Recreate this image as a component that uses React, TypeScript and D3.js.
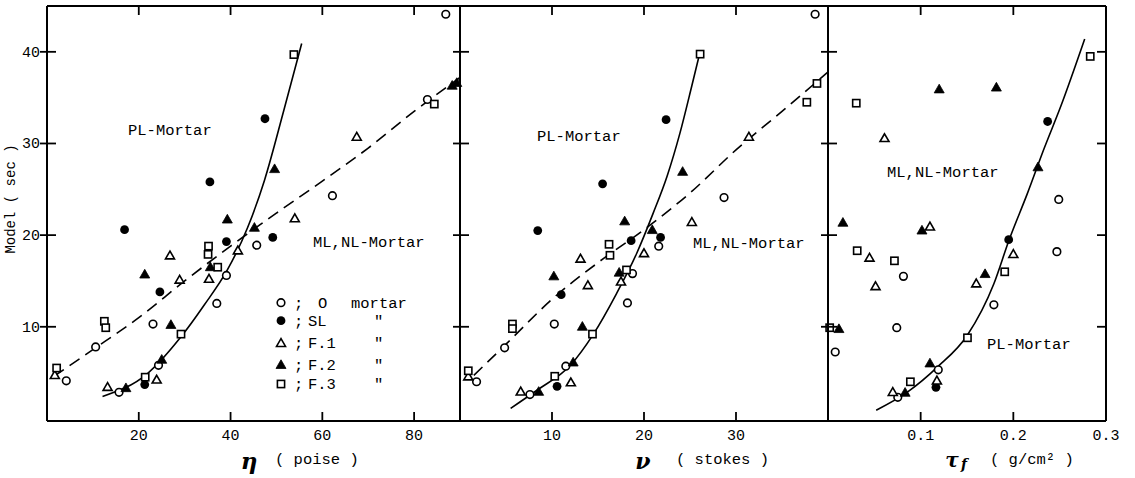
import React from 'react';
import * as d3 from 'd3';

// ---------- data ----------
const yTicks = [10, 20, 30, 40];
const etaTicks = [20, 40, 60, 80];
const nuTicks = [10, 20, 30];
const tauTicks = [0.1, 0.2, 0.3];

// Panel 1: eta (poise) vs Model (sec)
const etaO = [[86.9, 44.1], [82.9, 34.8], [62.2, 24.3], [45.7, 18.9], [39.1, 15.6], [37.0, 12.55], [23.1, 10.3], [10.6, 7.8], [4.2, 4.1], [24.3, 5.8], [15.7, 2.85]];
const etaSL = [[35.5, 25.8], [16.9, 20.6], [49.2, 19.75], [39.1, 19.3], [24.6, 13.8], [21.3, 3.7], [47.5, 32.7]];
const etaF1 = [[26.8, 17.75], [41.6, 18.3], [35.3, 15.2], [28.9, 15.1], [1.7, 4.7], [23.9, 4.2], [13.2, 3.4], [67.5, 30.7], [54.0, 21.8]];
const etaF2 = [[39.3, 21.7], [45.2, 20.8], [21.3, 15.7], [35.6, 16.5], [27.0, 10.2], [25.0, 6.4], [17.2, 3.3], [49.6, 27.2], [88.3, 36.3], [89.3, 36.6]];
const etaF3 = [[53.8, 39.7], [35.2, 18.8], [35.1, 17.9], [37.2, 16.5], [12.5, 10.6], [12.8, 9.9], [29.2, 9.2], [2.1, 5.5], [21.4, 4.5], [84.4, 34.3]];
const etaSolid = [[12.1, 2.4], [21.9, 4.9], [29.2, 8.9], [34.3, 12.4], [39.3, 16.2], [43.7, 20.8], [47.4, 26.0], [51.6, 33.6], [55.5, 40.9]];
const etaDashed = [[1.5, 4.6], [10, 7.5], [20, 11.0], [30, 15.0], [40, 18.8], [50, 22.4], [60, 25.9], [70, 29.5], [80, 33.5], [90, 37.2]];

// Panel 2: nu (stokes)
const nuO = [[38.6, 44.1], [28.7, 24.1], [21.6, 18.8], [18.75, 15.8], [18.2, 12.6], [10.25, 10.3], [4.85, 7.7], [1.8, 4.0], [11.5, 5.7], [7.6, 2.6]];
const nuSL = [[15.5, 25.6], [8.45, 20.5], [21.8, 19.75], [18.6, 19.4], [11.0, 13.5], [10.55, 3.5], [22.4, 32.6]];
const nuF1 = [[13.1, 17.4], [20.0, 18.0], [13.9, 14.5], [17.5, 14.9], [0.9, 4.55], [12.05, 3.9], [6.6, 2.9], [31.4, 30.7], [25.2, 21.4]];
const nuF2 = [[17.9, 21.5], [20.9, 20.55], [10.2, 15.5], [17.3, 15.9], [13.3, 10.0], [12.3, 6.1], [8.55, 2.9], [24.2, 26.9]];
const nuF3 = [[26.1, 39.75], [16.2, 19.0], [16.3, 17.8], [18.1, 16.2], [5.7, 10.3], [5.7, 9.8], [14.4, 9.2], [0.9, 5.2], [10.3, 4.6], [38.8, 36.55], [37.7, 34.5]];
const nuSolid = [[5.5, 1.1], [8.4, 3.1], [12.0, 5.8], [14.5, 9.2], [17.0, 13.6], [19.2, 18.0], [21.0, 22.4], [22.5, 26.4], [23.9, 31.1], [25.2, 36.3], [26.0, 39.6]];
const nuDashed = [[1.5, 4.7], [5, 8.1], [10, 13.0], [15, 17.0], [20, 20.6], [25, 24.6], [30, 29.3], [35, 33.5], [40, 37.8]];

// Panel 3: tau_f (g/cm2)
const tauO = [[0.249, 23.9], [0.247, 18.2], [0.0814, 15.5], [0.179, 12.4], [0.0742, 9.9], [0.0078, 7.25], [0.119, 5.3], [0.0753, 2.3]];
const tauSL = [[0.195, 19.5], [0.1165, 3.4], [0.237, 32.4]];
const tauF1 = [[0.110, 20.9], [0.0448, 17.5], [0.200, 17.9], [0.0513, 14.4], [0.160, 14.7], [0.1175, 4.1], [0.0699, 2.85], [0.061, 30.55]];
const tauF2 = [[0.2266, 27.4], [0.0161, 21.35], [0.1014, 20.5], [0.1695, 15.75], [0.0118, 9.75], [0.110, 6.0], [0.0832, 2.8], [0.120, 35.9], [0.1817, 36.1]];
const tauF3 = [[0.283, 39.5], [0.0315, 18.3], [0.0717, 17.2], [0.1907, 16.0], [0.0018, 9.9], [0.1505, 8.8], [0.0889, 4.0], [0.0305, 34.4]];
const tauSolid = [[0.052, 0.9], [0.086, 2.9], [0.118, 5.6], [0.1505, 9.1], [0.179, 14.7], [0.1955, 19.5], [0.215, 24.5], [0.233, 29.4], [0.251, 34.0], [0.277, 41.4]];

const legendKeys = ['O', 'SL', 'F1', 'F2', 'F3'];
const legendNames = ['O', 'SL', 'F.1', 'F.2', 'F.3'];

// ---------- layout ----------
const W = 1135, H = 478;
const TOP = 6, BOTTOM = 421;
const FONT = '"Liberation Mono", "DejaVu Sans Mono", monospace';
const y = d3.scaleLinear().domain([-0.28, 45.0]).range([BOTTOM, TOP]);

const panels = [
  {
    x: d3.scaleLinear().domain([0, 90]).range([47, 460]), ticks: etaTicks, fmt: d3.format('d'),
    series: { O: etaO, SL: etaSL, F1: etaF1, F2: etaF2, F3: etaF3 }, solid: etaSolid, dashed: etaDashed,
    notes: [{ t: 'PL-Mortar', x: 128, y: 135 }, { t: 'ML,NL-Mortar', x: 313, y: 247 }],
  },
  {
    x: d3.scaleLinear().domain([0, 40]).range([460, 828]), ticks: nuTicks, fmt: d3.format('d'),
    series: { O: nuO, SL: nuSL, F1: nuF1, F2: nuF2, F3: nuF3 }, solid: nuSolid, dashed: nuDashed,
    notes: [{ t: 'PL-Mortar', x: 537, y: 141 }, { t: 'ML,NL-Mortar', x: 693, y: 248 }],
  },
  {
    x: d3.scaleLinear().domain([0, 0.3]).range([828, 1106]), ticks: tauTicks, fmt: d3.format('.1f'),
    series: { O: tauO, SL: tauSL, F1: tauF1, F2: tauF2, F3: tauF3 }, solid: tauSolid, dashed: null as null | number[][],
    notes: [{ t: 'ML,NL-Mortar', x: 887, y: 177 }, { t: 'PL-Mortar', x: 987, y: 349 }],
  },
];

function Marker({ kind, cx, cy }: { kind: string; cx: number; cy: number }) {
  const sw = 1.6;
  if (kind === 'O') return <circle cx={cx} cy={cy} r={3.8} fill="#fff" stroke="#000" strokeWidth={sw} />;
  if (kind === 'SL') return <circle cx={cx} cy={cy} r={4.4} fill="#000" />;
  if (kind === 'F1' || kind === 'F2') {
    const filled = kind === 'F2';
    const s = filled ? 10 : 9;
    const h = s * 0.87;
    const pts = `${cx},${cy - h * 0.6} ${cx - s / 2},${cy + h * 0.4} ${cx + s / 2},${cy + h * 0.4}`;
    return <polygon points={pts} fill={filled ? '#000' : '#fff'} stroke="#000" strokeWidth={filled ? 0.8 : sw} strokeLinejoin="miter" />;
  }
  return <rect x={cx - 3.6} y={cy - 3.6} width={7.2} height={7.2} fill="#fff" stroke="#000" strokeWidth={sw} />;
}

export default function App() {
  const lineFor = (xs: d3.ScaleLinear<number, number>) =>
    d3.line<number[]>().x(d => xs(d[0])).y(d => y(d[1])).curve(d3.curveMonotoneX);

  const legendRows = [302.7, 320.7, 343.3, 365, 384];

  return (
    <svg width={W} height={H} style={{ position: 'absolute', left: 0, top: 0, background: '#fff' }}
      fontFamily={FONT}>
      <rect x={0} y={0} width={W} height={H} fill="#fff" />
      {panels.map((p, i) => {
        const [, x1] = p.x.range();
        const ln = lineFor(p.x);
        return (
          <g key={i}>
            <path d={ln(p.solid) || ''} fill="none" stroke="#000" strokeWidth={1.6} />
            {p.dashed && <path d={ln(p.dashed) || ''} fill="none" stroke="#000" strokeWidth={1.6} strokeDasharray="12,7" />}
            {p.ticks.map(t => {
              const px = p.x(t);
              const inner = px < x1 - 3;
              return (
                <g key={t}>
                  {inner && <line x1={px} x2={px} y1={BOTTOM} y2={BOTTOM - 9} stroke="#000" strokeWidth={1.8} />}
                  {inner && <line x1={px} x2={px} y1={TOP} y2={TOP + 9} stroke="#000" strokeWidth={1.8} />}
                  <text x={px} y={440} textAnchor="middle" fontSize={15}>{p.fmt(t)}</text>
                </g>
              );
            })}
            {legendKeys.map(k => (p.series as any)[k].map((d: number[], j: number) => (
              <Marker key={k + j} kind={k} cx={p.x(d[0])} cy={y(d[1])} />
            )))}
            {p.notes.map(n => (
              <text key={n.t} x={n.x} y={n.y} fontSize={15.5}>{n.t}</text>
            ))}
          </g>
        );
      })}
      {/* frame */}
      <line x1={47} x2={1106} y1={TOP} y2={TOP} stroke="#000" strokeWidth={2} />
      <line x1={47} x2={1106} y1={BOTTOM} y2={BOTTOM} stroke="#000" strokeWidth={2.2} />
      {[47, 460, 828].map(bx => (
        <g key={bx}>
          <line x1={bx} x2={bx} y1={TOP} y2={BOTTOM} stroke="#000" strokeWidth={2} />
          {yTicks.map(t => (
            <line key={t} x1={bx - 7} x2={bx + 9} y1={y(t)} y2={y(t)} stroke="#000" strokeWidth={1.8} />
          ))}
        </g>
      ))}
      <line x1={1106} x2={1106} y1={TOP} y2={BOTTOM} stroke="#000" strokeWidth={2} />
      {yTicks.map(t => (
        <line key={t} x1={1097} x2={1106} y1={y(t)} y2={y(t)} stroke="#000" strokeWidth={1.8} />
      ))}
      {yTicks.map(t => (
        <text key={t} x={40} y={y(t) + 5} textAnchor="end" fontSize={15}>{t}</text>
      ))}
      <text transform={`translate(15,199) rotate(-90)`} textAnchor="middle" fontSize={14}>Model ( sec )</text>
      {/* x titles */}
      <text x={249} y={469} textAnchor="middle" fontSize={23} fontStyle="italic" fontWeight="bold" fontFamily="'DejaVu Serif', serif">η</text>
      <text x={275} y={464} fontSize={15.5}>( poise )</text>
      <text x={643} y={469} textAnchor="middle" fontSize={22} fontStyle="italic" fontWeight="bold" fontFamily="'DejaVu Serif', serif">ν</text>
      <text x={676} y={464} fontSize={15.5}>( stokes )</text>
      <text x={952} y={467} textAnchor="middle" fontSize={20} fontStyle="italic" fontWeight="bold" fontFamily="'DejaVu Serif', serif">τ</text>
      <text x={964} y={469} textAnchor="middle" fontSize={14} fontStyle="italic" fontWeight="bold" fontFamily="'DejaVu Serif', serif">f</text>
      <text x={990} y={464} fontSize={15.5}>( g/cm² )</text>
      {/* legend */}
      {legendKeys.map((k, i) => {
        const ly = legendRows[i];
        return (
          <g key={k}>
            <Marker kind={k} cx={281} cy={ly} />
            <text x={294} y={ly + 5} fontSize={15.5}>;</text>
            <text x={i === 0 ? 318 : 308} y={ly + 5} fontSize={15.5}>{legendNames[i]}</text>
            {i === 0 && <text x={351} y={ly + 5} fontSize={15.5}>mortar</text>}
            {i > 0 && <text x={374} y={ly + 5} fontSize={15.5}>"</text>}
          </g>
        );
      })}
    </svg>
  );
}
